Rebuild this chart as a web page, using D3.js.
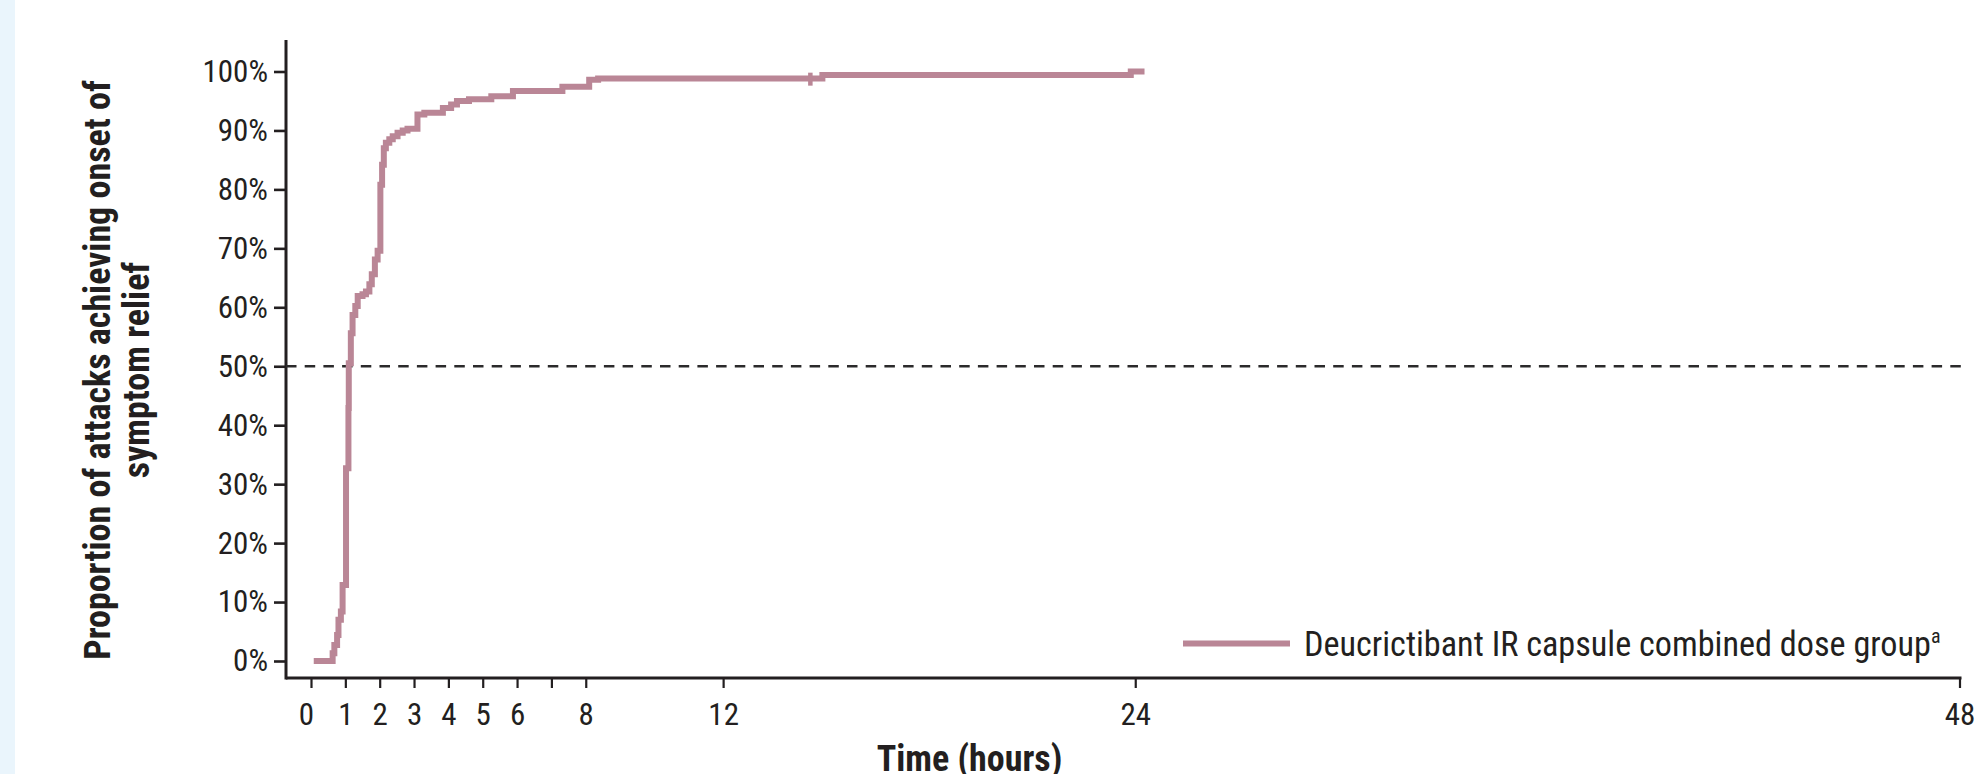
<!DOCTYPE html>
<html>
<head>
<meta charset="utf-8">
<script src="https://cdn.jsdelivr.net/npm/d3@7"></script>
<style>
  body { margin: 0; background: #ffffff; }
  svg { display: block; }
  .axis text { font-family: "Roboto Condensed", "Liberation Sans Narrow", "Arial Narrow", "DejaVu Sans Condensed", sans-serif; fill: #231f20; }
  .title { font-family: "Roboto Condensed", "Liberation Sans Narrow", "Arial Narrow", "DejaVu Sans Condensed", sans-serif; fill: #231f20; }
</style>
</head>
<body>
<div id="chart"></div>
<script>
// time (hours) at which each step of the curve starts, and the cumulative % reached
const stepTimes = [0.08, 0.63, 0.68, 0.76, 0.80, 0.87, 0.92, 1.02, 1.09, 1.10, 1.16, 1.21, 1.29, 1.36,
    1.50, 1.60, 1.70, 1.77, 1.86, 1.94, 2.02, 2.07, 2.12, 2.18, 2.28, 2.38, 2.52, 2.67, 2.81,
    3.10, 3.30, 3.84, 4.08, 4.25, 4.60, 5.25, 5.88, 7.32, 8.10, 8.36, 14.89, 23.87, 24.27];
const stepValues = [0, 1.3, 2.7, 4.4, 7.0, 8.4, 12.9, 32.7, 42.9, 50.5, 55.6, 58.7, 60.2, 61.9,
    62.2, 62.7, 63.9, 65.6, 68.1, 69.6, 80.8, 84.2, 87.0, 87.9, 88.5, 89.0, 89.6, 90.0, 90.3,
    92.7, 93.0, 93.8, 94.4, 95.0, 95.3, 95.8, 96.7, 97.4, 98.6, 98.8, 99.4, 100, 100];
const censorTimes = [14.54];
const censorValues = [98.7];

const xTicks = [0, 1, 2, 3, 4, 5, 6, 7, 8, 12, 24, 48];
const yTicks = [0, 10, 20, 30, 40, 50, 60, 70, 80, 90, 100];
const medianLine = 50;
const seriesName = 'Deucrictibant IR capsule combined dose group';
const yTitle = ['Proportion of attacks achieving onset of', 'symptom relief'];
const xTitle = 'Time (hours)';

const width = 1978;
const height = 774;
const lineColor = '#ba8696';
const ink = '#231f20';

const svg = d3.select('#chart')
    .append('svg')
    .attr('width', width)
    .attr('height', height)
    .attr('viewBox', `0 0 ${width} ${height}`);

// light blue strip at the left edge
svg.append('rect')
    .attr('x', 0).attr('y', 0)
    .attr('width', 15).attr('height', height)
    .attr('fill', '#eaf5fc');

const x = d3.scaleLinear().domain([0, 48]).range([311, 1959.5]);
const y = d3.scaleLinear().domain([0, 100]).range([661, 71.5]);

const axisX = 286;
const axisY = 678;

// y axis
const yAxis = svg.append('g')
    .attr('class', 'axis')
    .attr('transform', `translate(${axisX},0)`)
    .call(d3.axisLeft(y)
        .tickValues(yTicks)
        .tickSize(12)
        .tickPadding(6)
        .tickFormat(d => d + '%'));
yAxis.select('.domain').remove();
yAxis.selectAll('.tick line').attr('stroke', ink).attr('stroke-width', 2.6);
yAxis.selectAll('.tick text').style('font-size', '31px');

// x axis
const xAxis = svg.append('g')
    .attr('class', 'axis')
    .attr('transform', `translate(0,${axisY})`)
    .call(d3.axisBottom(x)
        .tickValues(xTicks)
        .tickSize(10)
        .tickPadding(15)
        .tickFormat(d => d === 7 ? '' : d));
xAxis.select('.domain').remove();
xAxis.selectAll('.tick line').attr('stroke', ink).attr('stroke-width', 2.2);
xAxis.selectAll('.tick text')
    .style('font-size', '31px')
    .attr('dx', d => d === 0 ? -5 : 0);

// axis lines
svg.append('line')
    .attr('x1', axisX).attr('x2', axisX)
    .attr('y1', 40).attr('y2', axisY + 1.5)
    .attr('stroke', ink).attr('stroke-width', 3);
svg.append('line')
    .attr('x1', axisX).attr('x2', x(48) + 2)
    .attr('y1', axisY).attr('y2', axisY)
    .attr('stroke', ink).attr('stroke-width', 3);

// 50% reference line
svg.append('line')
    .attr('x1', axisX).attr('x2', x(48) + 6)
    .attr('y1', y(medianLine)).attr('y2', y(medianLine))
    .attr('stroke', '#2b2a2b')
    .attr('stroke-width', 2.6)
    .attr('stroke-dasharray', '10.5,8.2');

// step curve
const points = stepTimes.map((t, i) => [t, stepValues[i]]);
const line = d3.line()
    .x(d => x(d[0]))
    .y(d => y(d[1]))
    .curve(d3.curveStepAfter);

svg.append('path')
    .datum(points)
    .attr('d', line)
    .attr('fill', 'none')
    .attr('stroke', lineColor)
    .attr('stroke-width', 6)
    .attr('stroke-linejoin', 'miter');

// censoring marks
svg.selectAll('.censor')
    .data(censorTimes.map((t, i) => [t, censorValues[i]]))
    .enter().append('line')
    .attr('class', 'censor')
    .attr('x1', d => x(d[0])).attr('x2', d => x(d[0]))
    .attr('y1', d => y(d[1]) - 6.5).attr('y2', d => y(d[1]) + 6.5)
    .attr('stroke', lineColor)
    .attr('stroke-width', 4.5);

// y axis title
const yt = svg.append('text')
    .attr('class', 'title')
    .attr('transform', 'translate(110,370) rotate(-90)')
    .attr('text-anchor', 'middle')
    .style('font-size', '36px')
    .style('font-weight', 'bold');
yt.append('tspan').attr('x', 0).attr('y', 0).text(yTitle[0]);
yt.append('tspan').attr('x', 0).attr('y', 39).text(yTitle[1]);

// x axis title
svg.append('text')
    .attr('class', 'title')
    .attr('x', 969.5)
    .attr('y', 770.5)
    .attr('text-anchor', 'middle')
    .style('font-size', '36px')
    .style('font-weight', 'bold')
    .text(xTitle);

// legend
const legend = svg.append('g').attr('transform', 'translate(1183,643.5)');
legend.append('line')
    .attr('x1', 0).attr('x2', 107)
    .attr('stroke', lineColor)
    .attr('stroke-width', 6);
const lt = legend.append('text')
    .attr('class', 'title')
    .attr('x', 121)
    .attr('y', 12)
    .style('font-size', '34.2px');
lt.append('tspan').text(seriesName);
lt.append('tspan')
    .attr('dy', -13)
    .style('font-size', '20px')
    .text('a');
</script>
</body>
</html>
